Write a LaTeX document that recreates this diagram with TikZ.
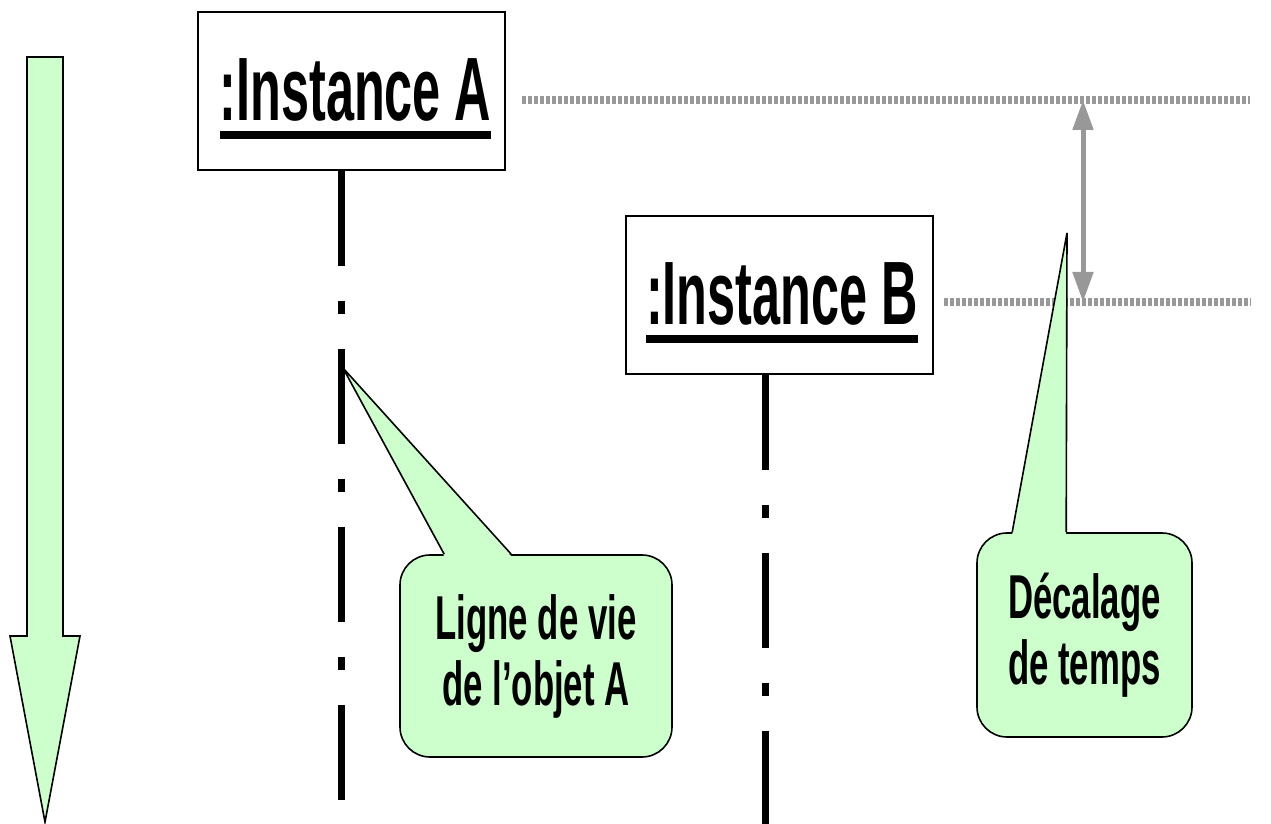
\documentclass[tikz,border=0pt]{standalone}
\usepackage{fontspec}
\setmainfont{Liberation Sans}[FakeStretch=0.56]
\usetikzlibrary{arrows.meta,calc}
\definecolor{notegreen}{RGB}{204,255,204}
\definecolor{guidegray}{RGB}{152,152,152}
\newcommand{\instlabel}[1]{\setbox0=\hbox{#1}\vbox{\kern8pt\copy0\kern5pt\hrule height 4pt width \wd0}}

\begin{document}
\begin{tikzpicture}[x=0.5pt,y=0.5pt,yscale=-1,
	instance/.style={draw,line width=1pt,fill=white,minimum width=153.5pt,minimum height=79pt,inner sep=0pt,font=\bfseries\fontsize{45}{48}\selectfont},
	notebox/.style={draw,line width=0.8pt,fill=notegreen,rounded corners=15pt,inner sep=0pt,align=center,font=\bfseries\fontsize{31}{33}\selectfont},
	lifeline/.style={line width=3.5pt,dash pattern=on 47.5pt off 17.5pt on 6.5pt off 17.5pt},
	guide/.style={guidegray,line width=4pt,dash pattern=on 2pt off 1pt},
	pointer/.style={line width=0.8pt,line join=miter}]
	\useasboundingbox (0,0) rectangle (1271,824);
	
	%Time arrow
	\draw [pointer,fill=notegreen] (27,57) -- (63,57) -- (63,636) -- (80,636) -- (45,822) -- (10,636) -- (27,636) -- cycle ;
	
	% Instances
	\node [instance] (instA) at (351.5,91) {\hspace{4pt}\instlabel{:Instance A}};
	\node [instance] (instB) at (779,295) {\hspace{3pt}\instlabel{:Instance B}};
	
	%Lifelines
	\coordinate (endA) at (341,830);
	\coordinate (endB) at (765,830);
	\draw [lifeline] (instA.south -| endA) -- (endA) ;
	\draw [lifeline] (instB.south -| endB) -- (endB) ;
	
	%Guides
	\coordinate (guideA) at (1250,100);
	\coordinate (guideB) at (1250,302);
	\draw [guide,shorten <=8pt] (guideA -| instA.east) -- (guideA) ;
	\draw [guide,shorten <=5pt] (guideB -| instB.east) -- (guideB) ;
	
	%Shift arrow
	\coordinate (gapTop) at (1083,100);
	\coordinate (gapBot) at (1083,302);
	\draw [guidegray,line width=2.5pt,{Triangle[width=10pt,length=15pt]}-{Triangle[width=10pt,length=15pt]}] (gapTop) -- (gapBot) ;
	
	% Note on lifeline A
	\node [notebox,minimum width=136pt,minimum height=101pt] (noteA) at (536,656) {Ligne de vie\\de l’objet A};
	\coordinate (tipA) at (343,368);
	\coordinate (baseAl) at ($(noteA.north west)+(45,0)$);
	\coordinate (baseAr) at ($(noteA.north west)+(112,0)$);
	\fill [notegreen] ($(baseAl)+(0,2)$) -- (tipA) -- ($(baseAr)+(0,2)$) -- cycle ;
	\draw [pointer] (baseAl) -- (tipA) -- (baseAr) ;
	
	% Note on time shift
	\node [notebox,minimum width=107.5pt,minimum height=102pt] (noteB) at (1084.5,635) {Décalage\\de temps};
	\coordinate (tipB) at (1067,233);
	\coordinate (baseBl) at ($(noteB.north west)+(36,0)$);
	\coordinate (baseBr) at ($(noteB.north west)+(90,0)$);
	\fill [notegreen] ($(baseBl)+(0,2)$) -- (tipB) -- ($(baseBr)+(0,2)$) -- cycle ;
	\draw [pointer] (baseBl) -- (tipB) -- (baseBr) ;
	
\end{tikzpicture}
\end{document}
